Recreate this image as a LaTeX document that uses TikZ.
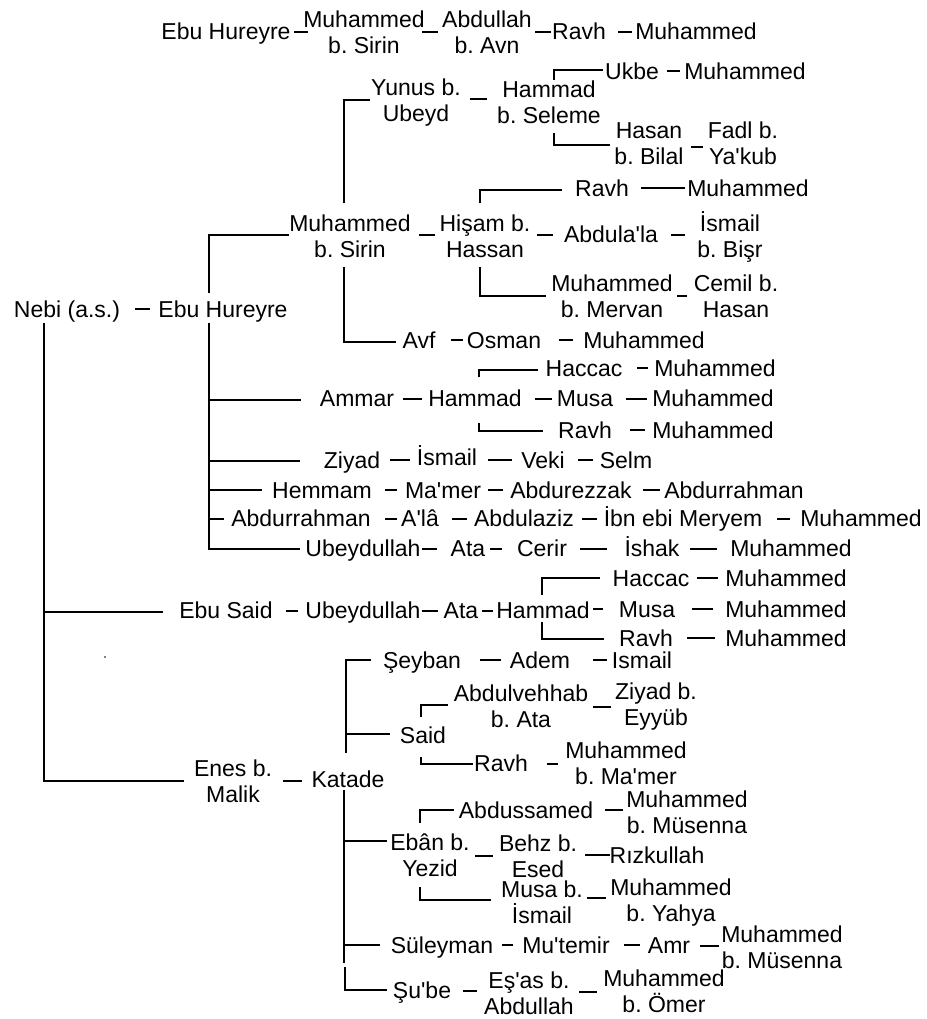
\documentclass[tikz,border=0pt]{standalone}
\usepackage{fontspec}
\setmainfont{Liberation Sans}[Ligatures=TeXOff]
\newcommand\fsz{\fontsize{23}{26}\selectfont\frenchspacing}
\newcommand\dsh[3]{\draw[lnk] (#1,#3) -- (#2,#3);}
\tikzset{
  l1/.style={inner sep=0pt, font=\fsz, text height=16.5pt, text depth=4.7pt, yshift=-2.3pt},
  l2/.style={inner sep=0pt, font=\fsz, align=center, yshift=-1.5pt},
  lnk/.style={line width=1.6pt, draw=black},
}
\begin{document}
\begin{tikzpicture}[x=1pt,y=-1pt]
\useasboundingbox (0,0) rectangle (926,1019);
% ---------- top row
\node[l1] (t1) at (226,31) {Ebu Hureyre};
\node[l2] (t2) at (364,31) {Muhammed\\b. Sirin};
\node[l2] (t3) at (487,31) {Abdullah\\b. Avn};
\node[l1] (t4) at (579,31) {Ravh};
\node[l1] (t5) at (696,31) {Muhammed};
\dsh{294}{308}{32}
\dsh{422}{438}{32}
\dsh{535}{551}{32}
\dsh{618}{632}{32}
% ---------- Yunus branch
\node[l2] (y1) at (416,101) {Yunus b.\\Ubeyd};
\node[l2] (y2) at (549,101) {Hammad\\b. Seleme};
\node[l1] (y3) at (632,71) {Ukbe};
\node[l1] (y4) at (745,71) {Muhammed};
\node[l2] (y5) at (649,142) {Hasan\\b. Bilal};
\node[l2] (y6) at (743,142) {Fadl b.\\Ya'kub};
\dsh{470}{487}{99}
\draw[lnk] (554,80) |- (603,70);
\dsh{667}{680}{71}
\draw[lnk] (554,133) |- (610,145);
\dsh{691}{703}{147}
% ---------- Muhammed b. Sirin (middle)
\node[l2] (m2) at (350,235) {Muhammed\\b. Sirin};
\node[l2] (h1) at (485,235) {Hişam b.\\Hassan};
\node[l1] (h2) at (602,188) {Ravh};
\node[l1] (h3) at (748,188) {Muhammed};
\node[l1] (h4) at (611,234) {Abdula'la};
\node[l2] (h5) at (730,235) {İsmail\\b. Bişr};
\node[l2] (h6) at (612,295) {Muhammed\\b. Mervan};
\node[l2] (h7) at (736,295) {Cemil b.\\Hasan};
\draw[lnk] (344,203) |- (370,100);
\dsh{419}{435}{235}
\draw[lnk] (480,203) |- (562,190);
\dsh{641}{685}{188}
\dsh{537}{553}{235}
\dsh{671}{685}{235}
\draw[lnk] (480,267) |- (546,296);
\dsh{677}{687}{296}
\draw[lnk] (344,267) |- (396,342);
\node[l1] (a1) at (419,340) {Avf};
\node[l1] (a2) at (504,340) {Osman};
\node[l1] (a3) at (644,340) {Muhammed};
\dsh{451}{463}{340}
\dsh{559}{573}{340}
% ---------- Nebi
\node[l1] (nb) at (67,309) {Nebi (a.s.)};
\node[l1] (e1) at (223,309) {Ebu Hureyre};
\dsh{135}{150}{309}
\draw[lnk] (44,323) |- (184,781);
\draw[lnk] (44,612) -- (163,612);
\draw[lnk] (209,293) |- (289,235);
\draw[lnk] (209,323) |- (300,549);
% ---------- Ammar
\draw[lnk] (479,377) |- (538,370);
\node[l1] (c1) at (584,368) {Haccac};
\node[l1] (c2) at (715,368) {Muhammed};
\dsh{637}{648}{368}
\draw[lnk] (209,400) -- (301,400);
\node[l1] (am1) at (357,398) {Ammar};
\node[l1] (am2) at (475,398) {Hammad};
\node[l1] (am3) at (585,398) {Musa};
\node[l1] (am4) at (713,398) {Muhammed};
\dsh{403}{422}{399}
\dsh{535}{552}{399}
\dsh{626}{647}{399}
\draw[lnk] (479,423) |- (543,431);
\node[l1] (r1) at (585,430) {Ravh};
\node[l1] (r2) at (713,430) {Muhammed};
\dsh{630}{645}{430}
% ---------- Ziyad
\draw[lnk] (209,461) -- (300,461);
\node[l1] (z1) at (352,460) {Ziyad};
\node[l1] (z2) at (447,457) {İsmail};
\node[l1] (z3) at (543,460) {Veki};
\node[l1] (z4) at (626,460) {Selm};
\dsh{390}{410}{460}
\dsh{488}{512}{460}
\dsh{578}{593}{460}
% ---------- Hemmam
\draw[lnk] (209,490) -- (262,490);
\node[l1] (hm1) at (322,490) {Hemmam};
\node[l1] (hm2) at (443,490) {Ma'mer};
\node[l1] (hm3) at (571,490) {Abdurezzak};
\node[l1] (hm4) at (734,490) {Abdurrahman};
\dsh{385}{397}{490}
\dsh{488}{503}{490}
\dsh{643}{660}{490}
% ---------- Abdurrahman
\draw[lnk] (209,519) -- (224,519);
\node[l1] (ab1) at (301,518) {Abdurrahman};
\node[l1] (ab2) at (420,518) {A'lâ};
\node[l1] (ab3) at (524,518) {Abdulaziz};
\node[l1] (ab4) at (683,518) {İbn ebi Meryem};
\node[l1] (ab5) at (861,518) {Muhammed};
\dsh{385}{397}{519}
\dsh{452}{467}{519}
\dsh{582}{597}{519}
\dsh{777}{790}{519}
% ---------- Ubeydullah
\node[l1] (u1) at (363,548) {Ubeydullah};
\node[l1] (u2) at (468,548) {Ata};
\node[l1] (u3) at (542,548) {Cerir};
\node[l1] (u4) at (652,548) {İshak};
\node[l1] (u5) at (791,548) {Muhammed};
\dsh{422}{437}{549}
\dsh{490}{502}{549}
\dsh{580}{607}{549}
\dsh{690}{717}{549}
% ---------- Ebu Said
\node[l1] (s1) at (226,610) {Ebu Said};
\node[l1] (s2) at (363,610) {Ubeydullah};
\node[l1] (s3) at (461,610) {Ata};
\node[l1] (s4) at (543,610) {Hammad};
\dsh{286}{298}{611}
\dsh{422}{438}{611}
\dsh{482}{493}{611}
\dsh{593}{603}{609}
\draw[lnk] (542,595) |- (600,578);
\node[l1] (s5) at (651,578) {Haccac};
\node[l1] (s6) at (786,578) {Muhammed};
\dsh{697}{718}{578}
\node[l1] (s7) at (647,609) {Musa};
\node[l1] (s8) at (786,609) {Muhammed};
\dsh{692}{713}{609}
\draw[lnk] (542,622) |- (604,639);
\node[l1] (s9) at (646,638) {Ravh};
\node[l1] (s10) at (786,638) {Muhammed};
\dsh{687}{715}{638}
\fill (105,657) circle (0.8pt);
% ---------- Enes b. Malik
\node[l2] (en) at (233,780) {Enes b.\\Malik};
\node[l1] (k) at (348,779) {Katade};
\dsh{283}{302}{781}
\draw[lnk] (346,753) |- (371,660);
\node[l1] (sy1) at (422,660) {Şeyban};
\node[l1] (sy2) at (540,660) {Adem};
\node[l1] (sy3) at (642,660) {Ismail};
\dsh{480}{501}{660}
\dsh{593}{607}{660}
\draw[lnk] (346,734) -- (390,734);
\node[l1] (sd) at (423,735) {Said};
\draw[lnk] (421,717) |- (448,705);
\node[l2] (sd1) at (521,705) {Abdulvehhab\\b. Ata};
\node[l2] (sd2) at (656,705) {Ziyad b.\\Eyyüb};
\dsh{593}{611}{707}
\draw[lnk] (421,757) |- (473,764);
\node[l1] (sd3) at (501,763) {Ravh};
\node[l2] (sd4) at (626,762) {Muhammed\\b. Ma'mer};
\dsh{547}{558}{764}
\draw[lnk] (344,790) -- (344,963);
\draw[lnk] (345,967) |- (387,990);
% Eban
\draw[lnk] (344,841) -- (387,841);
\node[l2] (eb) at (430,854) {Ebân b.\\Yezid};
\draw[lnk] (420,823) |- (454,810);
\node[l1] (eb1) at (526,810) {Abdussamed};
\node[l2] (eb2) at (687,811) {Muhammed\\b. Müsenna};
\dsh{605}{623}{810}
\node[l2] (eb3) at (538,855) {Behz b.\\Esed};
\node[l1] (eb4) at (657,855) {Rızkullah};
\dsh{475}{493}{856}
\dsh{585}{610}{855}
\draw[lnk] (420,887) |- (491,900);
\node[l2] (eb5) at (542,901) {Musa b.\\İsmail};
\node[l2] (eb6) at (671,901) {Muhammed\\b. Yahya};
\dsh{587}{606}{898}
% Suleyman
\draw[lnk] (344,945) -- (380,945);
\node[l1] (sl1) at (442,945) {Süleyman};
\node[l1] (sl2) at (566,945) {Mu'temir};
\node[l1] (sl3) at (669,945) {Amr};
\node[l2] (sl4) at (782,946) {Muhammed\\b. Müsenna};
\dsh{502}{513}{945}
\dsh{624}{640}{945}
\dsh{700}{719}{946}
% Sube
\node[l1] (sb1) at (422,990) {Şu'be};
\node[l2] (sb2) at (529,992) {Eş'as b.\\Abdullah};
\node[l2] (sb3) at (664,990) {Muhammed\\b. Ömer};
\dsh{463}{477}{991}
\dsh{579}{597}{992}
\end{tikzpicture}
\end{document}
